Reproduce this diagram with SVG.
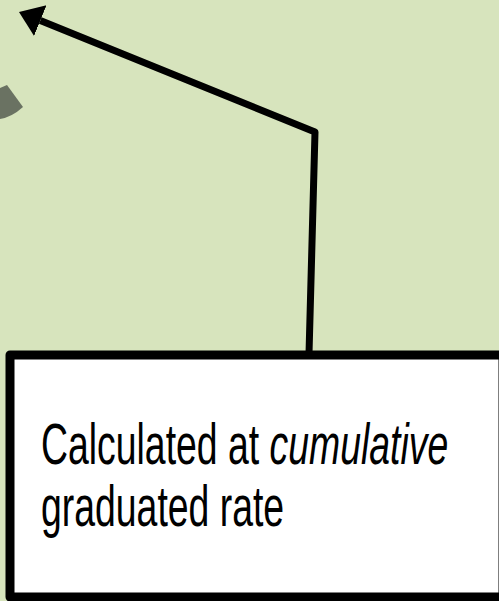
<svg xmlns="http://www.w3.org/2000/svg" width="499" height="601" viewBox="0 0 499 601">
  <style>
    .conn { fill: none; stroke: #000; stroke-width: 7; stroke-linejoin: round; }
    .box { fill: #fff; stroke: #000; stroke-width: 9; stroke-linejoin: round; }
    .lbl { font-family: "Liberation Sans", Arial, sans-serif; font-size: 57px; fill: #000; }
  </style>
  <defs>
    <marker id="arrow" markerUnits="userSpaceOnUse" markerWidth="30" markerHeight="40" viewBox="0 -20 30 40" refX="0" refY="0" orient="auto">
      <path d="M0,-16.5 L23,0 L0,16.5 Z" fill="#000"/>
    </marker>
  </defs>
  <rect width="499" height="601" fill="#D7E4BD"/>
  <g id="wedge">
    <path d="M0,88 L7,85 L23,107 Q12,117 0,119 Z" fill="#6A7262"/>
  </g>
  <g id="connectors">
    <polyline class="conn" points="309,354 315,132 40.3,20.6" marker-end="url(#arrow)"/>
  </g>
  <g id="note">
    <rect class="box" x="10" y="355" width="493" height="242"/>
    <text class="lbl" transform="translate(41,464) scale(0.656,1)"><tspan x="0" y="0">Calculated at <tspan font-style="italic">cumulative</tspan></tspan><tspan x="0" y="62">graduated rate</tspan></text>
  </g>
</svg>
